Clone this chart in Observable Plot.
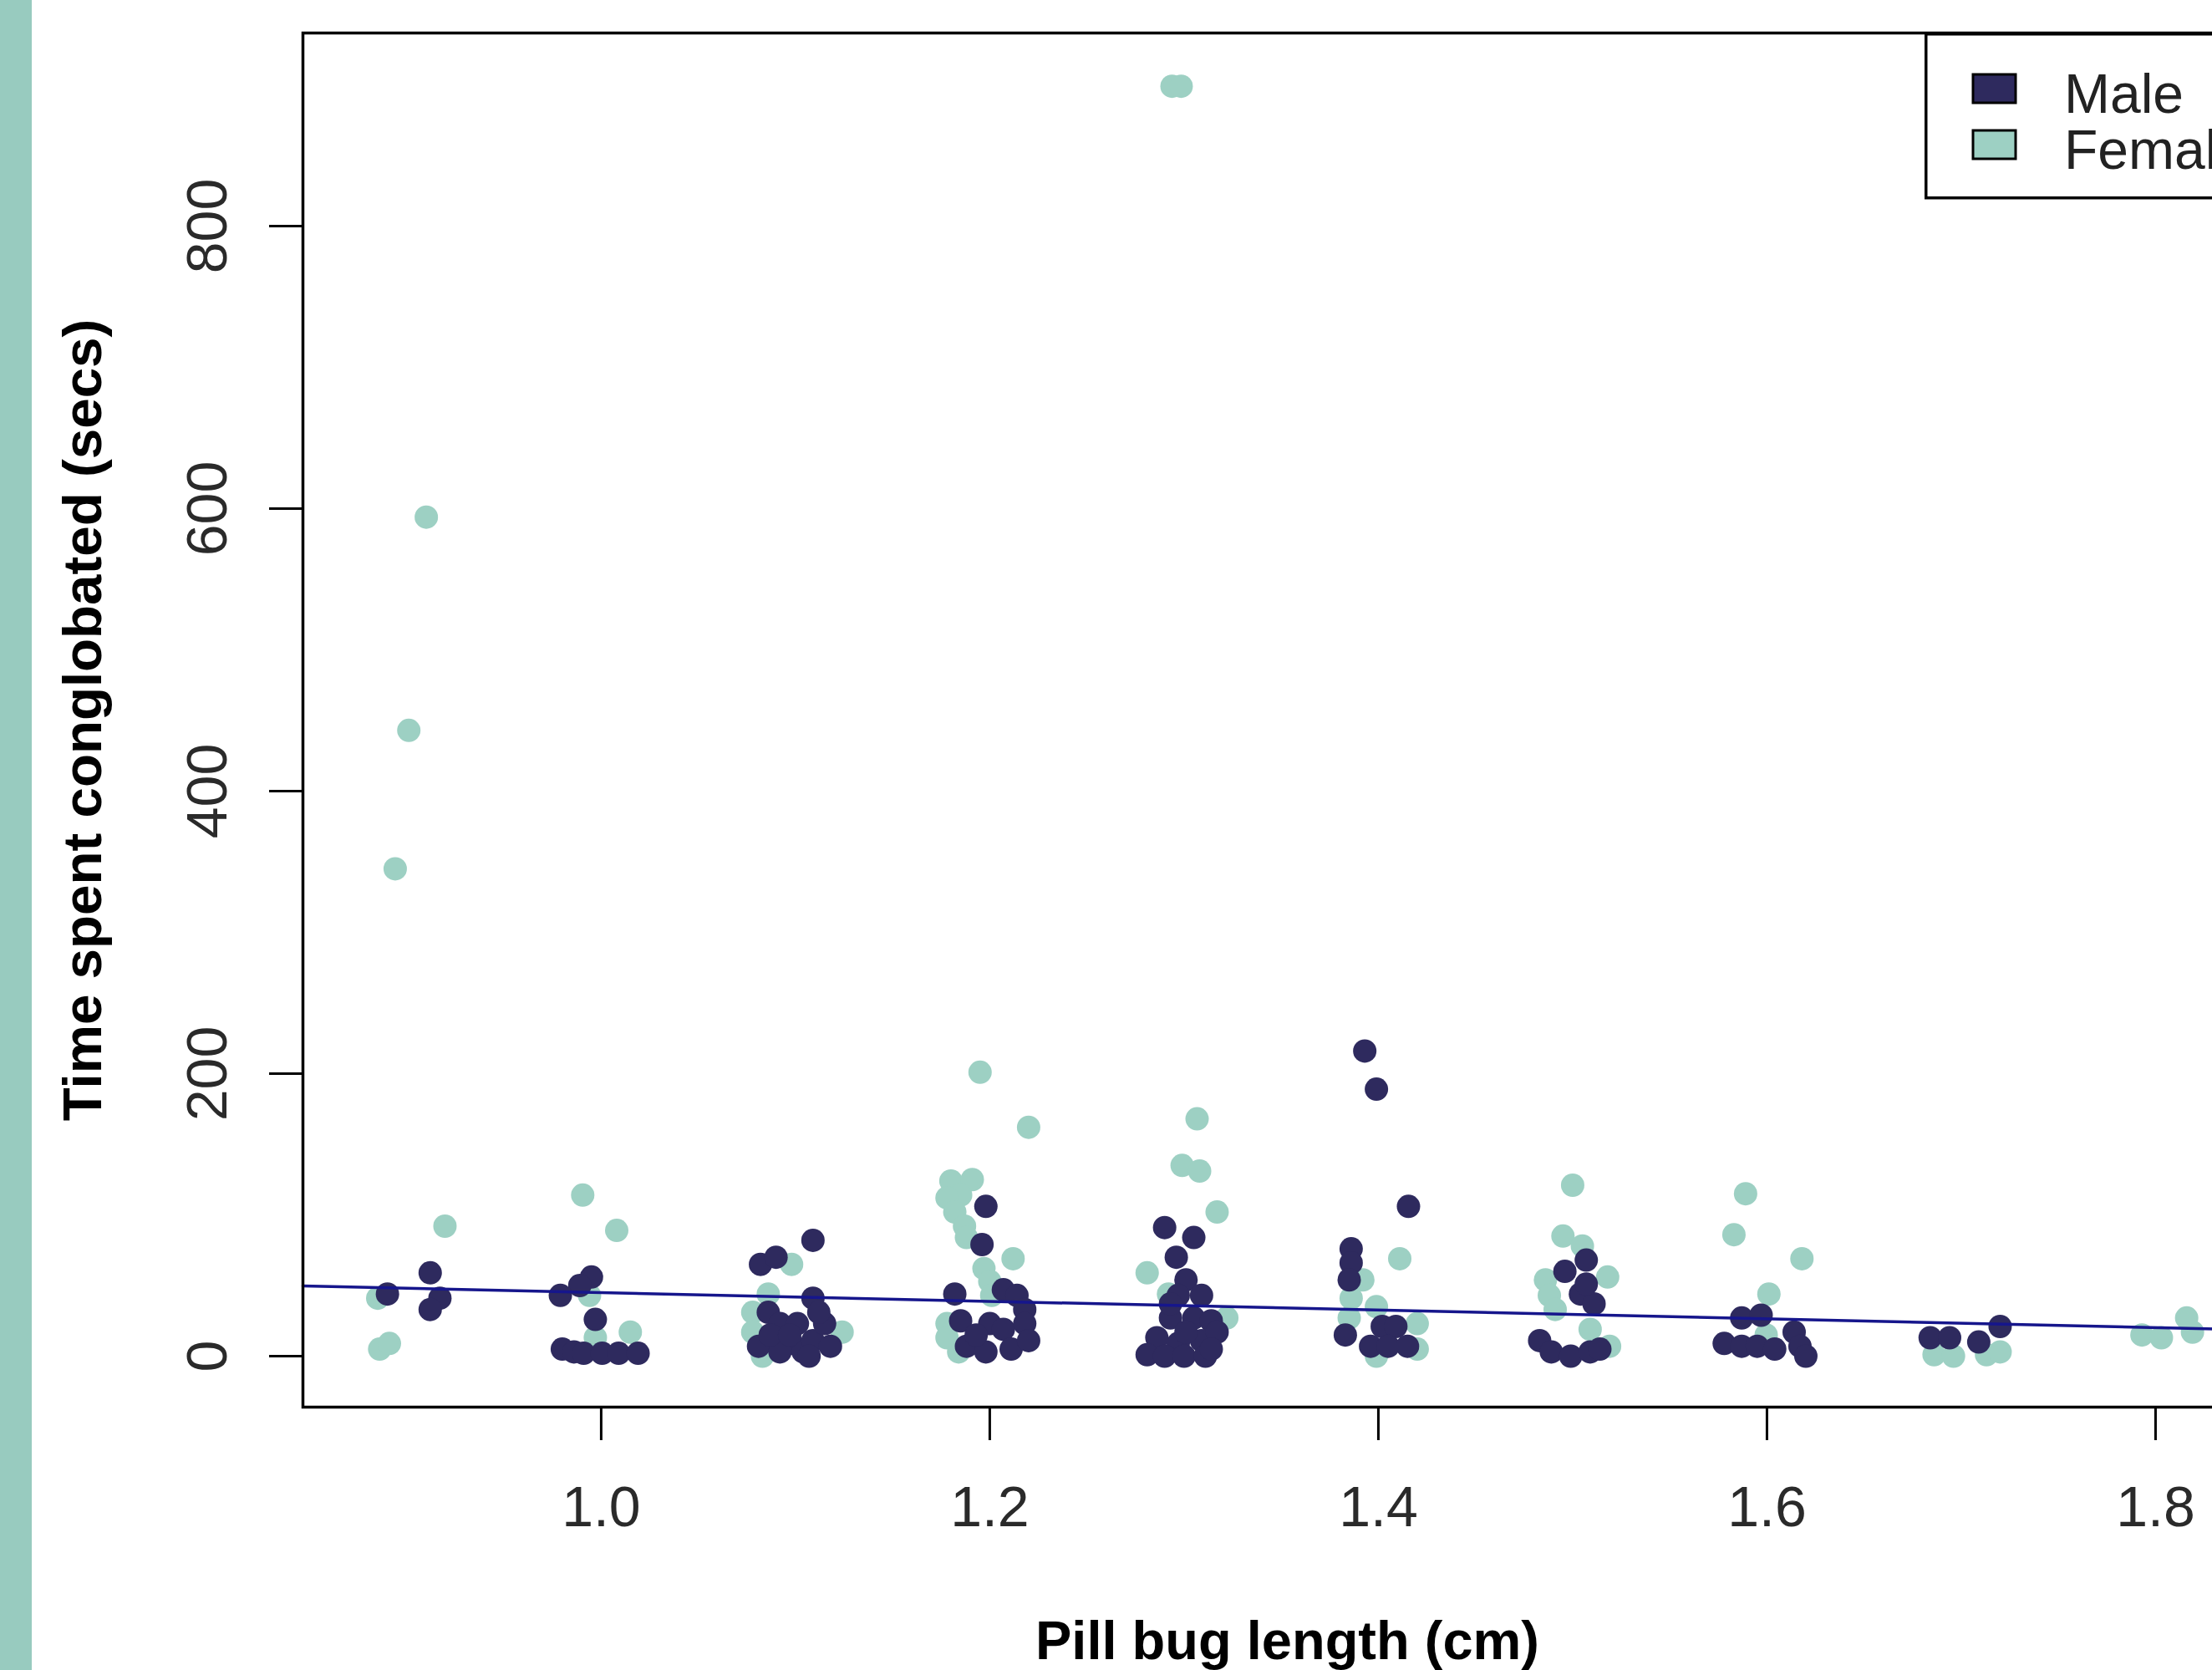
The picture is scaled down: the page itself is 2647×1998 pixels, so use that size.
<!DOCTYPE html>
<html>
<head>
<meta charset="utf-8">
<script src="https://cdn.jsdelivr.net/npm/d3@7"></script>
<script src="https://cdn.jsdelivr.net/npm/@observablehq/plot@0.6"></script>
<style>
  html, body { margin: 0; padding: 0; width: 2647px; height: 1998px; overflow: hidden; background: #fff; }
  #chart { position: absolute; left: 0; top: 0; width: 2760px; height: 1998px; }
  #chart svg { max-width: none !important; width: 2760px !important; height: 1998px !important; }
  #strip { position: absolute; left: 0; top: 0; width: 38px; height: 1998px; background: #98cbbf; z-index: 2; }
  #legend { position: absolute; left: 2303px; top: 39px; z-index: 3; }
</style>
</head>
<body>
<div id="chart"></div>
<div id="strip"></div>
<div id="legend"></div>
<script>
// ---- data ----
const sexes = ["Male", "Female"];
const sexColors = ["#2e2a5e", "#9dd0c3"];

const femaleX = [0.894, 0.901, 0.910, 0.9196, 0.885, 0.886, 0.891,
  0.9905, 1.008, 0.994, 1.015, 0.997,
  1.098, 1.086, 1.078, 1.124, 1.078, 1.083,
  1.195, 1.220, 1.180, 1.191, 1.185, 1.178, 1.182, 1.187, 1.188, 1.212, 1.197, 1.200, 1.201, 1.178, 1.178, 1.184,
  1.2938, 1.2985, 1.3067, 1.299, 1.308, 1.317, 1.281, 1.292, 1.322,
  1.411, 1.392, 1.386, 1.399, 1.420, 1.420, 1.399, 1.385,
  1.500, 1.495, 1.505, 1.518, 1.486, 1.488, 1.491, 1.509, 1.519,
  1.589, 1.583, 1.618, 1.601, 1.5996,
  1.686, 1.696, 1.713, 1.720,
  1.793, 1.803, 1.816, 1.819];
const femaleY = [345, 443, 594, 92, 41, 5, 9,
  114, 89, 43, 17, 13,
  65, 44, 31, 17, 17, 0,
  201, 162, 124, 125, 114, 112, 102, 92, 84, 69, 62, 53, 43, 23, 13, 3,
  899, 899, 168, 135, 131, 102, 59, 44, 27,
  69, 54, 41, 35, 23, 5, 0, 27,
  121, 85, 78, 56, 54, 43, 33, 19, 7,
  115, 86, 69, 44, 15,
  1, 0, 1, 3,
  15, 13, 27, 17];

const maleX = [0.890, 0.912, 0.917, 0.912,
  0.995, 0.989, 0.979, 0.997, 0.980, 0.986, 0.991, 1.0005, 1.009, 1.019,
  1.082, 1.090, 1.109, 1.086, 1.109, 1.081, 1.092, 1.098, 1.104, 1.109, 1.115, 1.118, 1.092, 1.101, 1.112, 1.107, 1.087, 1.097,
  1.198, 1.196, 1.182, 1.207, 1.214, 1.218, 1.185, 1.200, 1.207, 1.218, 1.188, 1.198, 1.211, 1.220, 1.193,
  1.290, 1.305, 1.296, 1.301, 1.297, 1.309, 1.293, 1.305, 1.314, 1.286, 1.297, 1.309, 1.317, 1.281, 1.290, 1.300, 1.311, 1.314, 1.301, 1.293,
  1.393, 1.399, 1.4155, 1.386, 1.386, 1.385, 1.383, 1.402, 1.409, 1.396, 1.405, 1.415,
  1.507, 1.496, 1.504, 1.511, 1.507, 1.483, 1.489, 1.499, 1.509, 1.514,
  1.587, 1.597, 1.578, 1.587, 1.595, 1.604, 1.614, 1.617, 1.620,
  1.684, 1.694, 1.709, 1.720];
const maleY = [44, 59, 41, 33,
  56, 50, 43, 26, 5, 3, 2, 2, 2, 2,
  65, 70, 82, 31, 41, 7, 23, 9, 3, 11, 23, 7, 3, 23, 31, 0, 15, 15,
  106, 79, 44, 47, 43, 33, 25, 23, 19, 23, 7, 3, 5, 11, 15,
  91, 84, 70, 54, 43, 43, 27, 27, 25, 13, 9, 11, 17, 1, 0, 0, 0, 5, 17, 37,
  216, 189, 106, 76, 66, 54, 15, 21, 21, 7, 7, 7,
  68, 60, 44, 37, 51, 11, 3, 0, 3, 5,
  27, 29, 9, 7, 7, 5, 17, 7, 0,
  13, 13, 10, 21];

// fitted regression line y = a + b x
const fitIntercept = 76;
const fitSlope = -31;

const xTicks = [1.0, 1.2, 1.4, 1.6, 1.8];
const yTicks = [0, 200, 400, 600, 800];
const xTitle = "Pill bug length (cm)";
const yTitle = "Time spent conglobated (secs)";

// ---- build ----
const xDomain = [0.8465, 1.8598];
const yDomain = [-36.1, 936.7];
const female = femaleX.map((x, i) => ({x, y: femaleY[i]}));
const male = maleX.map((x, i) => ({x, y: maleY[i]}));
const fit = xDomain.map(x => ({x, y: fitIntercept + fitSlope * x}));
const font = "'Liberation Sans', Arial, Helvetica, sans-serif";

const chart = Plot.plot({
  width: 2760,
  height: 1998,
  marginLeft: 362,
  marginRight: 42,
  marginTop: 39,
  marginBottom: 315,
  x: {domain: xDomain, axis: null},
  y: {domain: yDomain, axis: null},
  style: {fontFamily: font, background: "white", color: "black", overflow: "visible", maxWidth: "none"},
  marks: [
    Plot.dot(female, {x: "x", y: "y", r: 14, fill: sexColors[1]}),
    Plot.dot(male, {x: "x", y: "y", r: 14, fill: sexColors[0]}),
    Plot.line(fit, {x: "x", y: "y", stroke: "#16168c", strokeWidth: 3.5}),
    Plot.frame({stroke: "black", strokeWidth: 3.5}),
    Plot.axisX({ticks: xTicks, tickSize: 40, tickFormat: () => "", strokeWidth: 3, anchor: "bottom"}),
    Plot.axisY({ticks: yTicks, tickSize: 40, tickFormat: () => "", strokeWidth: 3, anchor: "left"}),
    Plot.text(xTicks, {x: d => d, text: d3.format(".1f"), frameAnchor: "bottom", dy: 94, lineAnchor: "top", fontSize: 68, fill: "#2a2a2a"}),
    Plot.text(yTicks, {y: d => d, text: d => String(d), frameAnchor: "left", dx: -92, rotate: -90, textAnchor: "middle", lineAnchor: "bottom", fontSize: 68, fill: "#2a2a2a"}),
    Plot.text([xTitle], {text: d => d, frameAnchor: "bottom", dy: 301, lineAnchor: "bottom", fontSize: 65, fontWeight: "bold", fill: "black"}),
    Plot.text([yTitle], {text: d => d, frameAnchor: "left", dx: -242, rotate: -90, textAnchor: "middle", lineAnchor: "bottom", fontSize: 65.5, fontWeight: "bold", fill: "black"})
  ]
});
document.getElementById("chart").appendChild(chart);

// ---- legend (inside plot, top-right, like R's legend()) ----
const lg = d3.select("#legend").append("svg")
  .attr("width", 420).attr("height", 200)
  .style("overflow", "visible")
  .style("font-family", font);
lg.append("rect").attr("x", 1.75).attr("y", 1.75).attr("width", 413).attr("height", 196)
  .attr("fill", "white").attr("stroke", "black").attr("stroke-width", 3.5);
sexes.forEach((s, i) => {
  lg.append("rect").attr("x", 58).attr("y", 50 + i * 67).attr("width", 51).attr("height", 34)
    .attr("fill", sexColors[i]).attr("stroke", "black").attr("stroke-width", 3);
  lg.append("text").attr("x", 167).attr("y", 96 + i * 67).attr("font-size", 66).attr("fill", "#222").text(s);
});
</script>
</body>
</html>
